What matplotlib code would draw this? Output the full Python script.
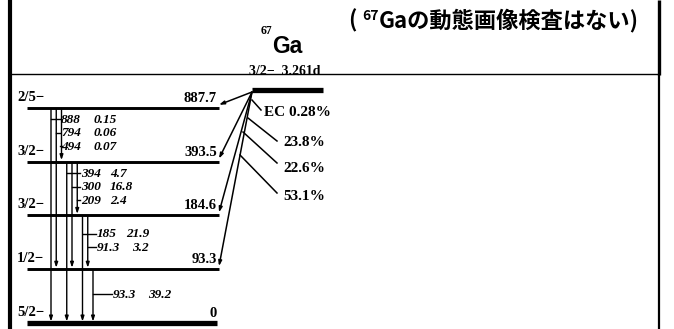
import matplotlib
matplotlib.use("Agg")
import matplotlib.pyplot as plt

# 67Zn levels fed by the EC decay of 67Ga
level_energy = [0, 93.3, 184.6, 393.5, 887.7]
level_label = ["0", "93.3", "184.6", "393.5", "887.7"]
level_spin = ["5/2−", "1/2−", "3/2−", "3/2−", "2/5−"]

# gamma transitions: energy (keV), intensity (%), from level, to level
gamma_energy = ["888", "794", "494", "394", "300", "209", "185", "91.3", "93.3"]
gamma_intensity = ["0.15", "0.06", "0.07", "4.7", "16.8", "2.4", "21.9", "3.2", "39.2"]
gamma_from = [4, 4, 4, 3, 3, 3, 2, 2, 1]
gamma_to = [0, 1, 3, 0, 1, 2, 0, 1, 0]

# EC feeding of the levels
ec_level = [4, 3, 2, 1]
ec_label = ["EC 0.28%", "23.8%", "22.6%", "53.1%"]

parent_mass = "67"
parent_name = "Ga"
parent_spin = "3/2−"
parent_halflife = "3.261d"
note_open = "( "
note_mass = "67"
note_rest = "Gaの動態画像検査はない)"

SERIF = "Liberation Serif"
CJK = ["Noto Sans CJK JP", "DejaVu Sans"]

W, H = 674, 329
fig = plt.figure(figsize=(W / 100, H / 100), dpi=100)
ax = fig.add_axes([0, 0, 1, 1])
ax.set_xlim(0, W)
ax.set_ylim(H, 0)
ax.axis("off")

# layout
LX0, LX1 = 27, 219
Y0, DY = 323, 53.8
GX0, GDX = 51, 5.25
PX0, PX1, PY = 252, 323, 90
label_x = {4: 61, 3: 81, 2: 97, 1: 113}
# intensity column per source level: x and alignment
inten_col = {4: (117, "right"), 3: (110, "left"), 2: (149, "right"), 1: (148, "left")}


def level_y(i):
    return Y0 - DY * i


# frame of the cell
ax.plot([10, 10], [0, H], color="black", lw=3.0, solid_capstyle="butt")
ax.plot([659, 659], [0, 75], color="black", lw=2.4, solid_capstyle="butt")
ax.plot([659, 659], [75, H], color="black", lw=1.6, solid_capstyle="butt")

# daughter levels
for i, (lab, spin) in enumerate(zip(level_label, level_spin)):
    y = level_y(i)
    ax.plot([LX0, LX1 - (2 if i == 0 else 0)], [y, y], color="black",
            lw=3.8 if i == 0 else 2.1, solid_capstyle="butt")
    ax.text(17, y - 7, spin, family=SERIF, fontsize=10.5, weight="bold", va="baseline")
    ax.text(LX1 - 2, y - 6, lab, family=SERIF, fontsize=10.5, weight="bold",
            ha="right", va="baseline")

# gamma transitions
for k, (e, inten, a, b) in enumerate(zip(gamma_energy, gamma_intensity, gamma_from, gamma_to)):
    x = GX0 + GDX * k
    ax.annotate("", xy=(x, level_y(b) - 1.5), xytext=(x, level_y(a) + 1),
                arrowprops=dict(arrowstyle="-|>,head_length=0.3,head_width=0.1",
                                color="black", lw=1.0, shrinkA=0, shrinkB=0))
    group = [j for j, f in enumerate(gamma_from) if f == a]
    n = len(group)
    pos = group.index(k)
    ly = level_y(a) + 25 + (pos - (n - 1) / 2) * 13.5
    lx = label_x[a]
    ax.plot([x, lx - 1.5], [ly, ly], color="black", lw=1.0)
    ax.text(lx, ly + 0.5, e, family=SERIF, style="italic", weight="bold",
            fontsize=9.5, va="center")
    ix, iha = inten_col[a]
    ax.text(ix, ly + 0.5, inten, family=SERIF, style="italic",
            weight="bold", fontsize=9.5, ha=iha, va="center")

# parent state
ax.plot([PX0, PX1], [PY, PY], color="black", lw=3.8, solid_capstyle="butt")
ax.text(287, 53, parent_name, family="Liberation Sans", fontsize=16.5, weight="bold",
        ha="center", va="baseline")
ax.text(261, 34, parent_mass, family=SERIF, fontsize=8.5, weight="bold", va="baseline")
ax.text(285, 75, parent_spin + "  " + parent_halflife, family=SERIF, fontsize=10,
        weight="bold", ha="center", va="baseline")

# EC feeding arrows
for lv in ec_level:
    ax.annotate("", xy=(LX1, level_y(lv) - 3), xytext=(PX0, PY + 2),
                arrowprops=dict(arrowstyle="-|>,head_length=0.3,head_width=0.1",
                                color="black", lw=1.1, shrinkA=0, shrinkB=0))

# branch labels with pointer lines
pointers = [((252, 100), (261, 110)), ((248, 118), (277, 141)),
            ((243, 132), (277, 163)), ((240, 155), (277, 193))]
label_pos = [(264, 112), (283, 142), (283, 169), (283, 196)]
for lab, (p0, p1), (tx, ty) in zip(ec_label, pointers, label_pos):
    ax.plot([p0[0], p1[0]], [p0[1], p1[1]], color="black", lw=1.1)
    ax.text(tx, ty, lab, family=SERIF, fontsize=11, weight="bold", va="center")

# header rule
ax.plot([10, 659], [74, 74], color="black", lw=1.0, zorder=5)

# note in the header
t1 = ax.text(349, 27, note_open, family=CJK, fontsize=16, weight="bold", va="baseline")
t2 = ax.annotate(note_mass, xy=(1, 0.4), xycoords=t1, va="bottom",
                 family=CJK, fontsize=10, weight="bold")
t3 = ax.annotate(note_rest, xy=(1, 0), xycoords=(t2, t1), va="bottom",
                 family=CJK, fontsize=16, weight="bold")

fig.savefig("out.png", dpi=100)
